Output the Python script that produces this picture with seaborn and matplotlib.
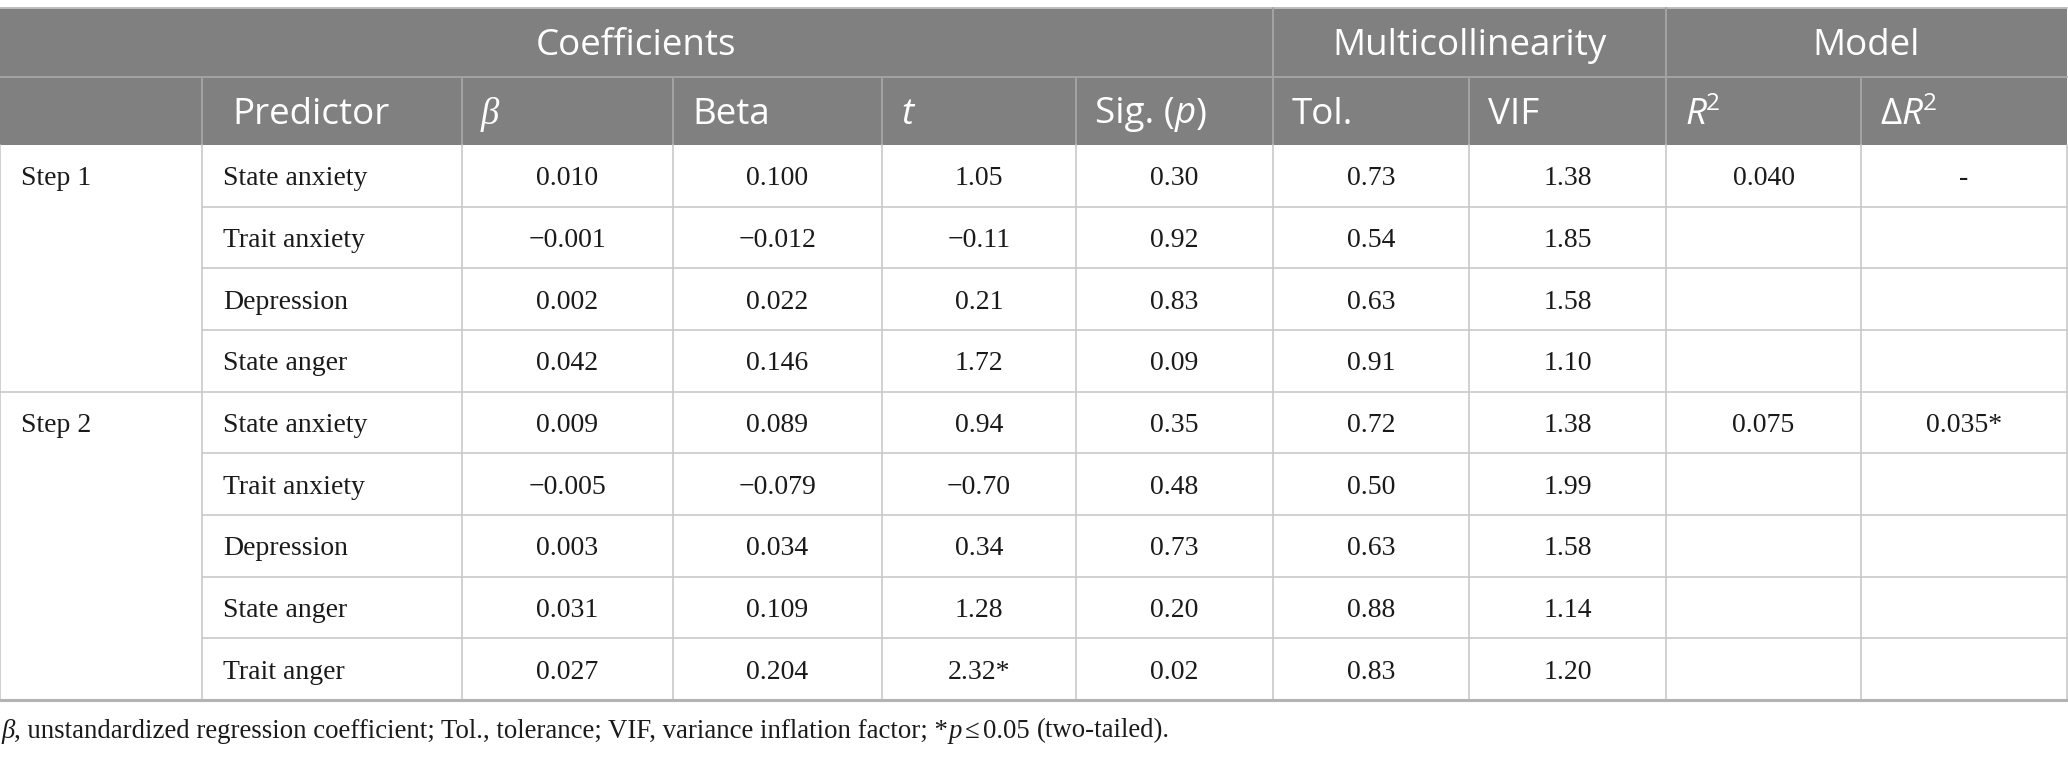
import matplotlib
matplotlib.use("Agg")
import matplotlib.pyplot as plt
from matplotlib.patches import Rectangle
import seaborn as sns

# table content
steps = ["Step 1", "Step 2"]
step_sizes = [4, 5]
predictors = ["State anxiety", "Trait anxiety", "Depression", "State anger",
              "State anxiety", "Trait anxiety", "Depression", "State anger", "Trait anger"]
b_vals = ["0.010", "\u22120.001", "0.002", "0.042",
          "0.009", "\u22120.005", "0.003", "0.031", "0.027"]
beta_vals = ["0.100", "\u22120.012", "0.022", "0.146",
             "0.089", "\u22120.079", "0.034", "0.109", "0.204"]
t_vals = ["1.05", "\u22120.11", "0.21", "1.72",
          "0.94", "\u22120.70", "0.34", "1.28", "2.32*"]
p_vals = ["0.30", "0.92", "0.83", "0.09",
          "0.35", "0.48", "0.73", "0.20", "0.02"]
tol_vals = ["0.73", "0.54", "0.63", "0.91",
            "0.72", "0.50", "0.63", "0.88", "0.83"]
vif_vals = ["1.38", "1.85", "1.58", "1.10",
            "1.38", "1.99", "1.58", "1.14", "1.20"]
r2_vals = ["0.040", "", "", "", "0.075", "", "", "", ""]
dr2_vals = ["-", "", "", "", "0.035*", "", "", "", ""]
groups = ["Coefficients", "Multicollinearity", "Model"]
group_spans = [(0, 6), (6, 8), (8, 10)]

# layout (pixels)
col_edges = [0, 202, 462, 673, 882, 1076, 1273, 1469, 1666, 1861, 2067]
top, head1, head2, bottom = 8, 77, 145, 700
row_h = (bottom - head2) / len(predictors)

HEAD_BG = "#808080"
HEAD_LINE = "#a3a3a3"
GRID = "#c9c9c9"
SANS = ["Open Sans", "DejaVu Sans"]
SERIF = ["Liberation Serif", "DejaVu Serif"]
HFS = 26.5
BFS = 20
FFS = 19.3
HDY = 3.5   # small nudges so text sits like the reference
BDY = 3

sns.set_theme(style="white")
plt.rcParams["font.family"] = SERIF

fig = plt.figure(figsize=(20.68, 7.59), dpi=100)
ax = fig.add_axes([0, 0, 1, 1])
ax.set_xlim(0, 2068)
ax.set_ylim(759, 0)
ax.axis("off")
renderer = fig.canvas.get_renderer()


def text_width(s, **kw):
    t = ax.text(0, 0, s, **kw)
    w = t.get_window_extent(renderer=renderer).width
    t.remove()
    return w


def draw_runs(x, y, runs, base):
    # runs: list of (text, extra props); text None means a space
    sp = text_width("x x", **base) - text_width("xx", **base)
    for s, extra in runs:
        if s is None:
            x += sp * extra.get("scale", 1.0)
            continue
        props = dict(base)
        props.update(extra)
        dy = props.pop("dy", 0)
        t = ax.text(x, y + dy, s, ha="left", va="center", **props)
        x += t.get_window_extent(renderer=renderer).width
    return x


# header band
ax.add_patch(Rectangle((0, top), col_edges[-1], head2 - top, color=HEAD_BG, lw=0))
ax.plot([0, col_edges[-1]], [top, top], color="#bdbdbd", lw=1.4)
ax.plot([0, col_edges[-1]], [head1, head1], color=HEAD_LINE, lw=1.4)
for a, b in group_spans[1:]:
    ax.plot([col_edges[a]] * 2, [top, head1], color=HEAD_LINE, lw=1.4)
for xe in col_edges[1:-1]:
    ax.plot([xe] * 2, [head1, head2], color=HEAD_LINE, lw=1.4)

hbase = dict(family=SANS, fontsize=HFS, color="white")
for name, (a, b) in zip(groups, group_spans):
    ax.text((col_edges[a] + col_edges[b]) / 2, (top + head1) / 2 + HDY, name,
            ha="center", va="center", **hbase)

hy = (head1 + head2) / 2 + HDY
pad = 19
it_sans = dict(style="italic")
sup = dict(fontsize=HFS * 0.66, dy=-10)
draw_runs(col_edges[1] + 30, hy, [("Predictor", {})], hbase)
draw_runs(col_edges[2] + pad, hy, [("\u03b2", dict(family=SERIF, style="italic", fontsize=HFS))], hbase)
draw_runs(col_edges[3] + pad, hy, [("Beta", {})], hbase)
draw_runs(col_edges[4] + pad, hy, [("t", it_sans)], hbase)
draw_runs(col_edges[5] + pad, hy, [("Sig. (", {}), ("p", it_sans), (")", {})], hbase)
draw_runs(col_edges[6] + pad, hy, [("Tol.", {})], hbase)
draw_runs(col_edges[7] + pad, hy, [("VIF", {})], hbase)
draw_runs(col_edges[8] + pad, hy, [("R", it_sans), ("2", sup)], hbase)
draw_runs(col_edges[9] + pad, hy, [("\u0394", {}), ("R", it_sans), ("2", sup)], hbase)

# body grid
for xe in col_edges:
    ax.plot([xe] * 2, [head2, bottom], color=GRID, lw=1.2)
starts = [0]
for n in step_sizes[:-1]:
    starts.append(starts[-1] + n)
for i in range(1, len(predictors)):
    y = head2 + i * row_h
    x0 = 0 if i in starts else col_edges[1]
    ax.plot([x0, col_edges[-1]], [y, y], color=GRID, lw=1.2)
ax.plot([0, col_edges[-1]], [bottom, bottom], color="#b3b3b3", lw=2.2)

# body text
bbase = dict(family=SERIF, fontsize=BFS, color="#1a1a1a")
for s, i in zip(steps, starts):
    ax.text(21, head2 + (i + 0.5) * row_h + BDY, s, ha="left", va="center", **bbase)
columns = [b_vals, beta_vals, t_vals, p_vals, tol_vals, vif_vals, r2_vals, dr2_vals]
for i, pred in enumerate(predictors):
    yc = head2 + (i + 0.5) * row_h + BDY
    ax.text(col_edges[1] + 21, yc, pred, ha="left", va="center", **bbase)
    for j, col in enumerate(columns):
        xc = (col_edges[j + 2] + col_edges[j + 3]) / 2
        ax.text(xc, yc, col[i], ha="center", va="center", **bbase)

# footnote
fbase = dict(family=SERIF, fontsize=FFS, color="#1a1a1a")
it_serif = dict(style="italic")
draw_runs(1, 731, [
    ("\u03b2", it_serif),
    (", unstandardized regression coefficient; Tol., tolerance; VIF, variance inflation factor; *", {}),
    ("p", it_serif), (None, {"scale": 0.5}), ("\u2264", {}), (None, {"scale": 0.5}),
    ("0.05", {}), (None, {}), ("(two-tailed).", {}),
], fbase)

fig.savefig("out.png", dpi=100)
